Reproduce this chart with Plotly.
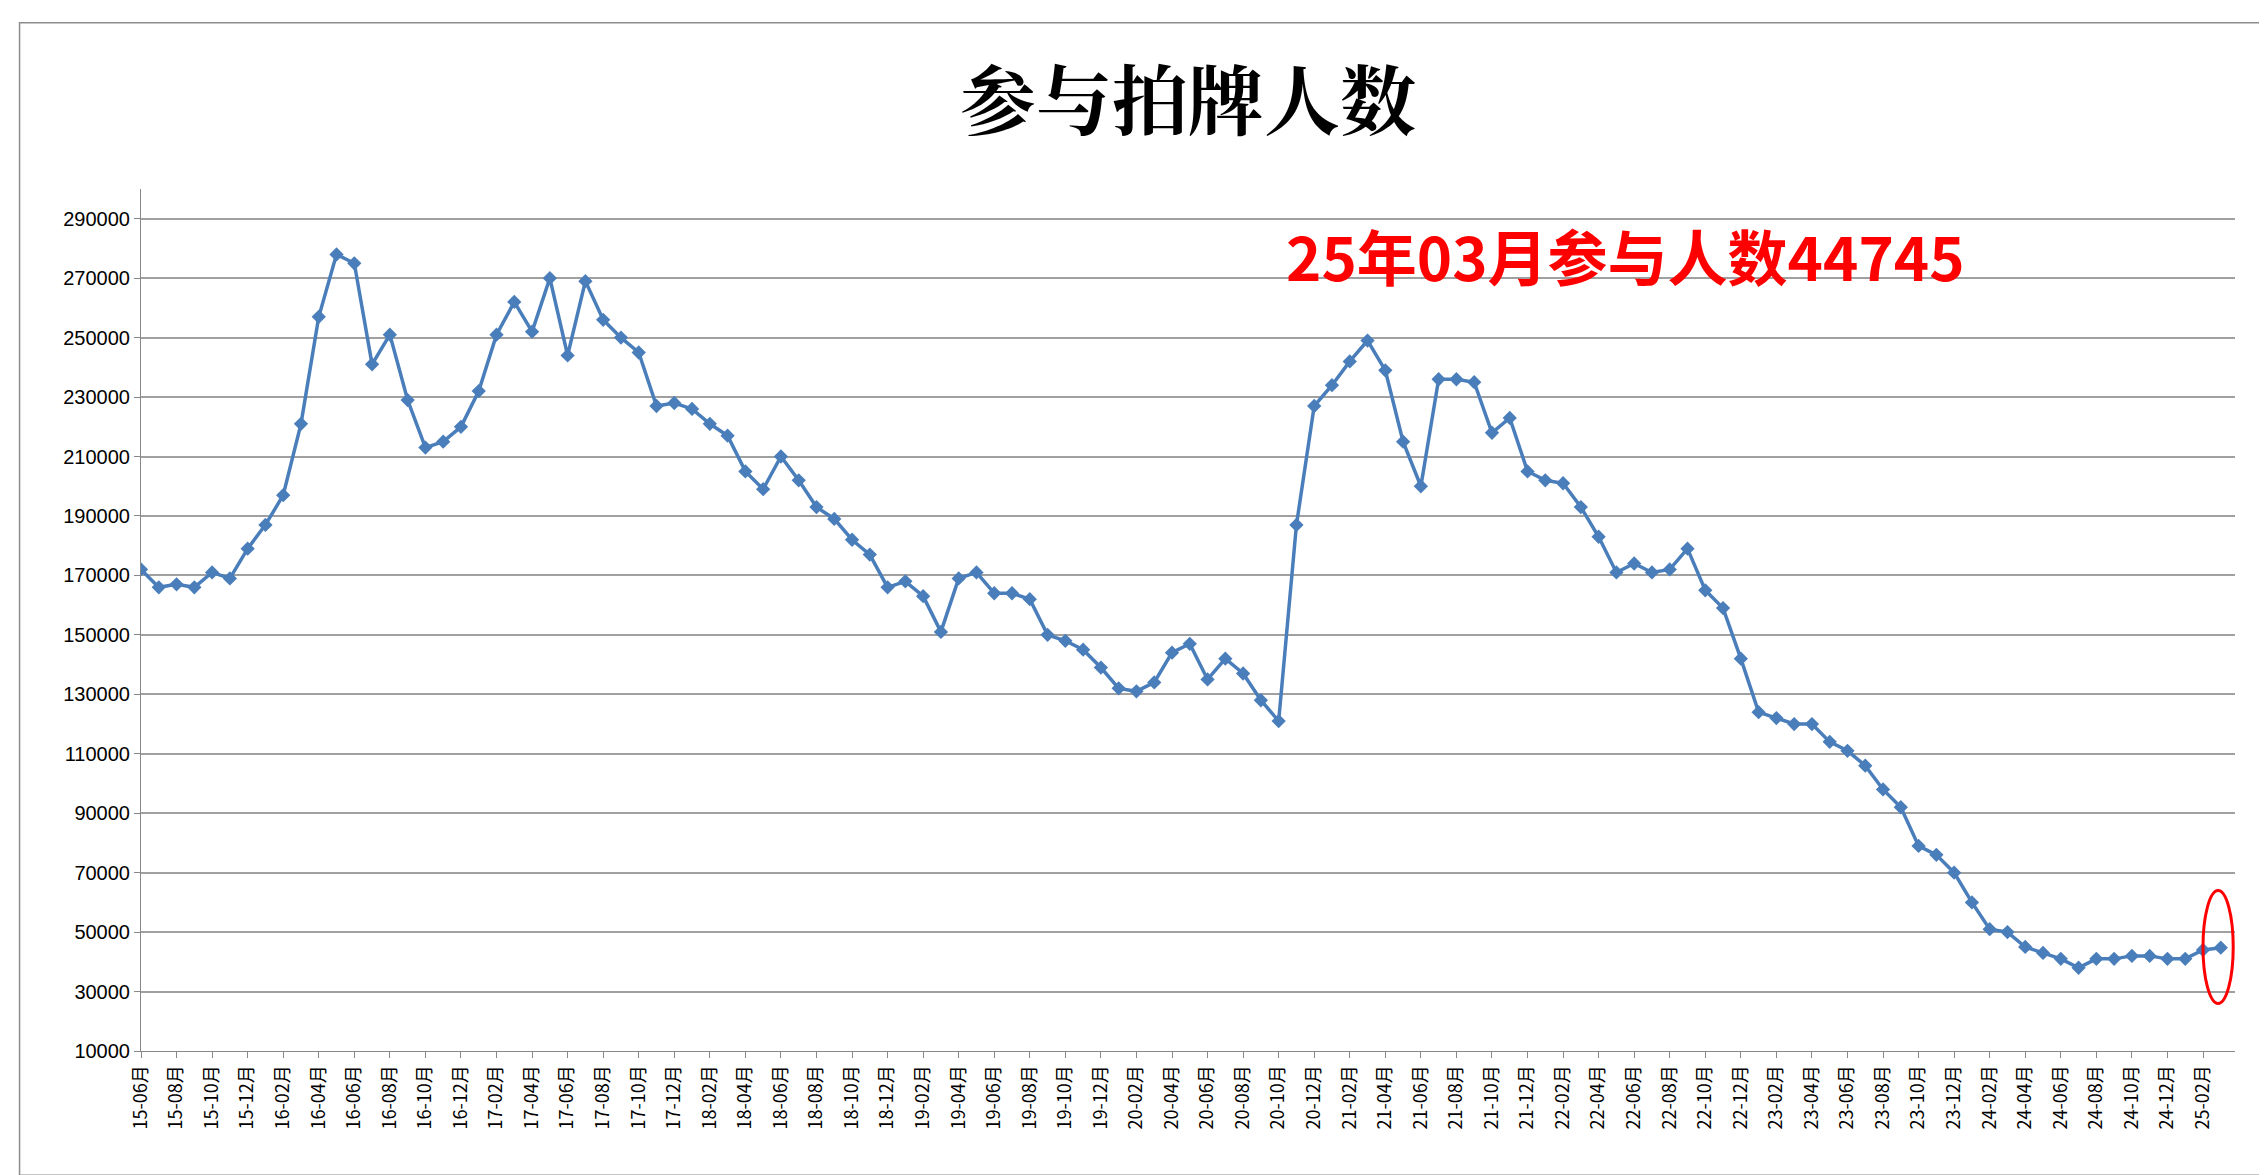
import plotly.graph_objects as go

# monthly participants, 15-06 .. 25-03
values = [
    172000, 166000, 167000, 166000, 171000, 169000, 179000,  # 2015
    187000, 197000, 221000, 257000, 278000, 275000, 241000, 251000, 229000, 213000, 215000, 220000,  # 2016
    232000, 251000, 262000, 252000, 270000, 244000, 269000, 256000, 250000, 245000, 227000, 228000,  # 2017
    226000, 221000, 217000, 205000, 199000, 210000, 202000, 193000, 189000, 182000, 177000, 166000,  # 2018
    168000, 163000, 151000, 169000, 171000, 164000, 164000, 162000, 150000, 148000, 145000, 139000,  # 2019
    132000, 131000, 134000, 144000, 147000, 135000, 142000, 137000, 128000, 121000, 187000, 227000,  # 2020
    234000, 242000, 249000, 239000, 215000, 200000, 236000, 236000, 235000, 218000, 223000, 205000,  # 2021
    202000, 201000, 193000, 183000, 171000, 174000, 171000, 172000, 179000, 165000, 159000, 142000,  # 2022
    124000, 122000, 120000, 120000, 114000, 111000, 106000, 98000, 92000, 79000, 76000, 70000,  # 2023
    60000, 51000, 50000, 45000, 43000, 41000, 38000, 41000, 41000, 42000, 42000, 41000,  # 2024
    41000, 44000, 44745,  # 2025
]

months = []
y, m = 15, 6
for _ in values:
    months.append(f"{y:02d}-{m:02d}月")
    m += 1
    if m > 12:
        m = 1
        y += 1

n = len(values)
fig = go.Figure(
    go.Scatter(
        x=list(range(n)),
        y=values,
        mode="lines+markers",
        line=dict(color="#4a7ebb", width=3.5),
        marker=dict(symbol="diamond", size=11, color="#4a7ebb"),
        hoverinfo="y",
    )
)

fig.update_layout(
    width=2267,
    height=1175,
    paper_bgcolor="white",
    plot_bgcolor="white",
    showlegend=False,
    margin=dict(l=133, r=40, t=181, b=132),
    font=dict(family="Noto Sans CJK SC, Arial", color="black"),
    title=dict(
        text="<b>参与拍牌人数</b>",
        x=0.5,
        xref="paper",
        y=0.92,
        yanchor="middle",
        font=dict(size=76, family="Noto Serif CJK SC, Noto Sans CJK SC", color="black"),
    ),
)

fig.update_xaxes(
    range=[0, n - 0.2],
    tickvals=list(range(0, n, 2)),
    ticktext=months[::2],
    tickangle=-90,
    tickfont=dict(size=18, family="Noto Sans CJK SC"),
    showgrid=False,
    showline=True,
    linecolor="#888888",
    ticks="outside",
    ticklen=6,
    tickcolor="#888888",
    zeroline=False,
)
fig.update_yaxes(
    range=[10000, 300000],
    tickvals=list(range(10000, 290001, 20000)),
    tickformat="d",
    tickfont=dict(size=20, family="Arial"),
    showgrid=True,
    gridcolor="#a0a0a0",
    gridwidth=1.5,
    showline=True,
    linecolor="#888888",
    ticks="outside",
    ticklen=6,
    tickcolor="#888888",
    zeroline=False,
)

fig.add_annotation(
    x=83.5, y=277800, xref="x", yref="y",
    text="<b>25年03月参与人数44745</b>",
    showarrow=False,
    font=dict(size=60, color="#ff0000", family="Noto Sans CJK SC"),
)

# red ellipse around the latest point
fig.add_shape(
    type="circle", xref="x", yref="y",
    x0=n - 2.0, x1=n - 0.3, y0=26000, y1=64000,
    line=dict(color="#ff0000", width=3),
)

# outer chart border
fig.add_shape(
    type="rect", xref="paper", yref="paper",
    x0=-0.058, x1=1.012, y0=-0.144, y1=1.193,
    line=dict(color="#8c8c8c", width=1.5),
)

fig.write_html("out.html")
